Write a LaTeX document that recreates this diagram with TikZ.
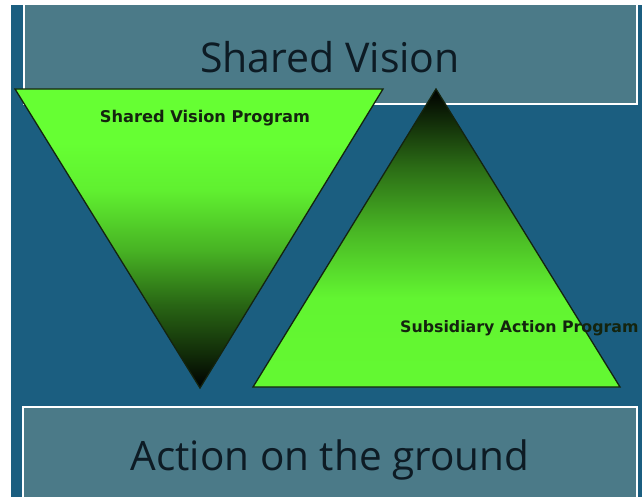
\documentclass[tikz,border=0pt]{standalone}
\usepackage{fontspec}
\setmainfont{Liberation Sans}
\newfontfamily\titlefont{Open Sans}
\newfontfamily\labelfont{DejaVu Sans}
\definecolor{panelblue}{HTML}{1B5E80}
\definecolor{boxteal}{HTML}{4B7A88}
\definecolor{inkdark}{HTML}{0D1B24}
\definecolor{brightgreen}{HTML}{66FF33}
\definecolor{edgedark}{HTML}{14240F}
\pgfdeclareverticalshading{downgrad}{100bp}{color(0bp)=(black); color(25bp)=(black); color(31bp)=(black!82!brightgreen); color(39bp)=(black!60!brightgreen); color(48bp)=(black!30!brightgreen); color(58bp)=(black!6!brightgreen); color(66bp)=(brightgreen); color(100bp)=(brightgreen)}
\pgfdeclareverticalshading{upgrad}{100bp}{color(0bp)=(brightgreen); color(40bp)=(brightgreen!96!black); color(51bp)=(black!28!brightgreen); color(62bp)=(black!58!brightgreen); color(75bp)=(black); color(100bp)=(black)}
\tikzset{
  panelbox/.style={fill=boxteal, draw=white, line width=1.8pt},
  tri/.style={draw=edgedark, line width=1.3pt, line join=miter},
  bigtext/.style={font=\titlefont\fontsize{41}{45}\selectfont, text=inkdark, inner sep=0pt},
  smalltext/.style={font=\labelfont\bfseries\fontsize{16.2}{18}\selectfont, text=edgedark, inner sep=0pt},
}
\begin{document}
\begin{tikzpicture}[x=1pt,y=-1pt]
\useasboundingbox (0,0) rectangle (642,497);
\fill[white] (0,0) rectangle (642,497);
\fill[panelblue] (11,5) rectangle (642,497);
% top and bottom boxes
\fill[boxteal] (24,5) rectangle (637,104);
\draw[white, line width=1.8pt] (24,5) -- (24,104) -- (637,104) -- (637,5);
\draw[panelbox] (23,407) rectangle (637,500);
\node[bigtext] (sv) at (330,57) {Shared Vision};
\node[bigtext, font=\titlefont\fontsize{40.5}{45}\selectfont] (ag) at (330,460) {Action on the ground};
% triangles
\path[tri, shading=downgrad] (15,89) -- (383,89) -- (200,388) -- cycle;
\path[tri, shading=upgrad] (436,89) -- (620,387) -- (253,387) -- cycle;
\node[smalltext] (svp) at (205,118) {Shared Vision Program};
\node[smalltext, font=\labelfont\bfseries\fontsize{15.8}{18}\selectfont, anchor=west] (sap) at (400,328) {Subsidiary Action Program};
\end{tikzpicture}
\end{document}
